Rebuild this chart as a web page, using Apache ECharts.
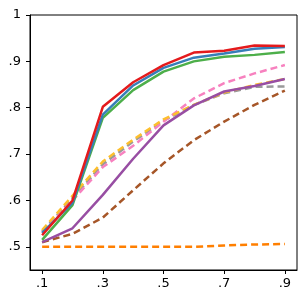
<!DOCTYPE html>
<html><head><meta charset="utf-8">
<script src="https://cdn.jsdelivr.net/npm/echarts@6/dist/echarts.min.js"></script>
<style>html,body{margin:0;padding:0;background:#fff}#c{width:300px;height:300px}</style>
</head><body><div id="c"></div>
<script>
const xs = [0.1,0.2,0.3,0.4,0.5,0.6,0.7,0.8,0.9];
const xTicks = [0.1,0.3,0.5,0.7,0.9];
const yTicks = [0.5,0.6,0.7,0.8,0.9,1.0];
const orangeVals = [0.500,0.500,0.500,0.500,0.500,0.500,0.503,0.505,0.506];
const brownVals  = [0.510,0.528,0.563,0.622,0.680,0.730,0.770,0.806,0.837];
const grayVals   = [0.533,0.605,0.678,0.727,0.772,0.806,0.831,0.845,0.846];
const yellowVals = [0.536,0.610,0.684,0.731,0.775,0.806,0.833,0.849,0.862];
const pinkVals   = [0.530,0.600,0.672,0.718,0.770,0.820,0.853,0.874,0.892];
const purpleVals = [0.510,0.540,0.612,0.690,0.762,0.805,0.835,0.847,0.862];
const greenVals  = [0.515,0.590,0.778,0.838,0.878,0.900,0.910,0.914,0.920];
const blueVals   = [0.530,0.595,0.785,0.848,0.886,0.908,0.917,0.927,0.931];
const redVals    = [0.525,0.600,0.802,0.855,0.892,0.919,0.923,0.934,0.933];

function mk(vals, color, dashed){
  return {type:'line', data: xs.map((x,i)=>[x, vals[i]]), symbol:'none', smooth:false,
    lineStyle:{color:color, width:2.5, type: dashed ? [7,4] : 'solid', cap:'butt'},
    itemStyle:{color:color}, animation:false};
}
const fmt = v => { const r = Math.round(v*10)/10; return r === 1 ? '1' : r.toFixed(1).replace(/^0/,''); };
const chart = echarts.init(document.getElementById('c'), null, {renderer:'canvas'});
chart.setOption({
  animation:false,
  grid:{left:30, top:15, right:3, bottom:30, show:true, borderColor:'#000', borderWidth:1, backgroundColor:'transparent'},
  xAxis:{type:'value', min:0.06, max:0.94,
    axisLine:{show:true, lineStyle:{color:'#000', width:1}},
    axisTick:{show:true, length:4, lineStyle:{color:'#000'}, customValues:xTicks},
    axisLabel:{color:'#000', fontSize:13, fontFamily:'DejaVu Sans', margin:7, formatter:fmt, customValues:xTicks},
    splitLine:{show:false}},
  yAxis:{type:'value', min:0.45, max:1.0,
    axisLine:{show:true, lineStyle:{color:'#000', width:1}},
    axisTick:{show:true, length:4, lineStyle:{color:'#000'}, customValues:yTicks},
    axisLabel:{color:'#000', fontSize:13, fontFamily:'DejaVu Sans', margin:9, formatter:fmt, customValues:yTicks},
    splitLine:{show:false}},
  series:[
    mk(orangeVals,'#ff7f00',true),
    mk(brownVals,'#a65628',true),
    mk(grayVals,'#999999',true),
    mk(pinkVals,'#f781bf',true),
    mk(yellowVals,'#fdbf2d',true),
    mk(purpleVals,'#984ea3',false),
    mk(greenVals,'#4daf4a',false),
    mk(blueVals,'#377eb8',false),
    mk(redVals,'#e41a1c',false)
  ]
});
</script></body></html>
